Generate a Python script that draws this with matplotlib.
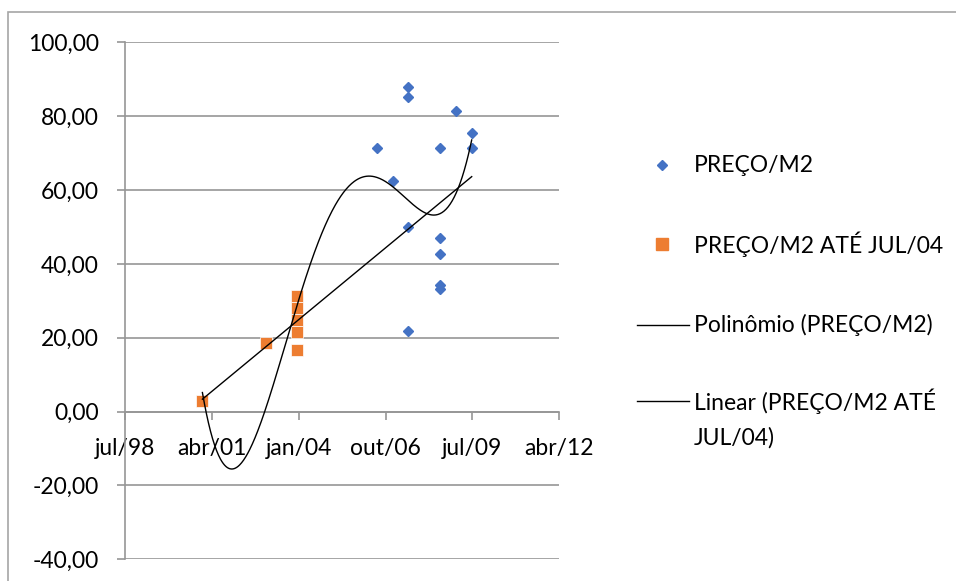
import numpy as np
import matplotlib
matplotlib.use('Agg')
import matplotlib.pyplot as plt
import matplotlib.dates as mdates
from matplotlib.lines import Line2D
from matplotlib.patches import Rectangle
from numpy.polynomial import Polynomial

plt.rcParams['font.family'] = ['Lato', 'DejaVu Sans']

# ---------------- data ----------------
# series "PREÇO/M2 ATÉ JUL/04" (orange)
orange_dates = ['2001-01-01', '2003-01-01', '2004-01-01', '2004-01-01',
                '2004-01-01', '2004-01-01', '2004-01-01']
orange_values = [3.0, 18.6, 31.2, 28.0, 24.9, 21.6, 16.7]

# series "PREÇO/M2" (blue) – later points; the early points coincide with the orange ones
blue_dates_late = ['2006-07-01', '2007-01-01',
                   '2007-07-01', '2007-07-01', '2007-07-01', '2007-07-01',
                   '2008-07-01', '2008-07-01', '2008-07-01', '2008-07-01', '2008-07-01',
                   '2009-01-01', '2009-07-01', '2009-07-01']
blue_values_late = [71.3, 62.5,
                    87.8, 85.1, 50.1, 21.9,
                    71.3, 46.9, 42.6, 34.3, 33.1,
                    81.4, 75.4, 71.3]

blue_dates = orange_dates + blue_dates_late
blue_values = orange_values + blue_values_late

poly_degree = 4

x_ticks = ['1998-07-24', '2001-04-20', '2004-01-15', '2006-10-12', '2009-07-07', '2012-04-02']
x_tick_labels = ['jul/98', 'abr/01', 'jan/04', 'out/06', 'jul/09', 'abr/12']
y_ticks = [-40, -20, 0, 20, 40, 60, 80, 100]
y_tick_labels = ['-40,00', '-20,00', '0,00', '20,00', '40,00', '60,00', '80,00', '100,00']

legend_labels = ['PREÇO/M2', 'PREÇO/M2 ATÉ JUL/04', 'Polinômio (PREÇO/M2)',
                 'Linear (PREÇO/M2 ATÉ\nJUL/04)']

# ---------------- figure ----------------
W, H = 956, 581
fig = plt.figure(figsize=(W / 100, H / 100), dpi=100)

def fx(px):
    return px / W

def fy(py):
    return 1 - py / H

GRID = '#969696'
BLUE = '#4472C4'
ORANGE = '#ED7D31'
FS = 16.5

# chart border
fig.patches.append(Rectangle((fx(8), -0.1), 1.2, fy(12.5) + 0.1, transform=fig.transFigure,
                             fill=False, edgecolor='#A6A6A6', lw=1.2))

ax = fig.add_axes([fx(125), fy(559.3), fx(559) - fx(125), fy(42.3) - fy(559.3)])

to_num = lambda ds: mdates.datestr2num(ds)
bx = to_num(blue_dates)
by = np.array(blue_values)
ox = to_num(orange_dates)
oy = np.array(orange_values)

ax.plot(bx, by, linestyle='none', marker='D', ms=5.6, color=BLUE, mec=BLUE, zorder=3)
ax.plot(ox, oy, linestyle='none', marker='s', ms=8, color=ORANGE, mec='white', mew=0.5, zorder=4)

# polynomial trend of blue series
xs = np.linspace(bx.min(), bx.max(), 400)
p = Polynomial.fit(bx, by, poly_degree)
ax.plot(xs, p(xs), color='black', lw=1.0, zorder=5)

# linear trend of orange series (forecast forward to the end of the data)
pl = Polynomial.fit(ox, oy, 1)
xl = np.array([ox.min(), bx.max()])
ax.plot(xl, pl(xl), color='black', lw=1.0, zorder=5)

ax.set_xlim(to_num('1998-07-24'), to_num('2012-04-02'))
ax.set_ylim(-40, 100)
ax.set_yticks(y_ticks)
ax.set_yticklabels(y_tick_labels)
ax.set_xticks(to_num(x_ticks))
ax.set_xticklabels(x_tick_labels)
ax.yaxis.grid(True, color=GRID, lw=1.2)
ax.set_axisbelow(True)
for s in ['top', 'right']:
    ax.spines[s].set_visible(False)
ax.spines['left'].set_color(GRID)
ax.spines['left'].set_linewidth(1.2)
ax.spines['bottom'].set_position(('data', 0))
ax.spines['bottom'].set_color(GRID)
ax.spines['bottom'].set_linewidth(1.2)
ax.tick_params(axis='y', direction='out', length=6, width=1.2, color=GRID, pad=13,
               labelsize=FS, labelcolor='black')
ax.tick_params(axis='x', direction='out', length=6, width=1.2, color=GRID, pad=13,
               labelsize=FS, labelcolor='black')
ax.patch.set_visible(False)

# legend (drawn manually in figure pixels)
fig.add_artist(Line2D([fx(662)], [fy(165)], marker='D', ms=5.6, color=BLUE, linestyle='none'))
fig.add_artist(Line2D([fx(662)], [fy(244)], marker='s', ms=8, color=ORANGE, linestyle='none'))
fig.add_artist(Line2D([fx(637), fx(689)], [fy(325), fy(325)], color='black', lw=1.0))
fig.add_artist(Line2D([fx(637), fx(689)], [fy(401), fy(401)], color='black', lw=1.0))
fig.text(fx(694), fy(165), legend_labels[0], fontsize=FS, va='center', ha='left')
fig.text(fx(694), fy(244), legend_labels[1], fontsize=FS, va='center', ha='left')
fig.text(fx(694), fy(325), legend_labels[2], fontsize=FS, va='center', ha='left')
fig.text(fx(694), fy(401), legend_labels[3].split('\n')[0], fontsize=FS, va='center', ha='left')
fig.text(fx(694), fy(438), legend_labels[3].split('\n')[1], fontsize=FS, va='center', ha='left')

fig.savefig('out.png', dpi=100)
